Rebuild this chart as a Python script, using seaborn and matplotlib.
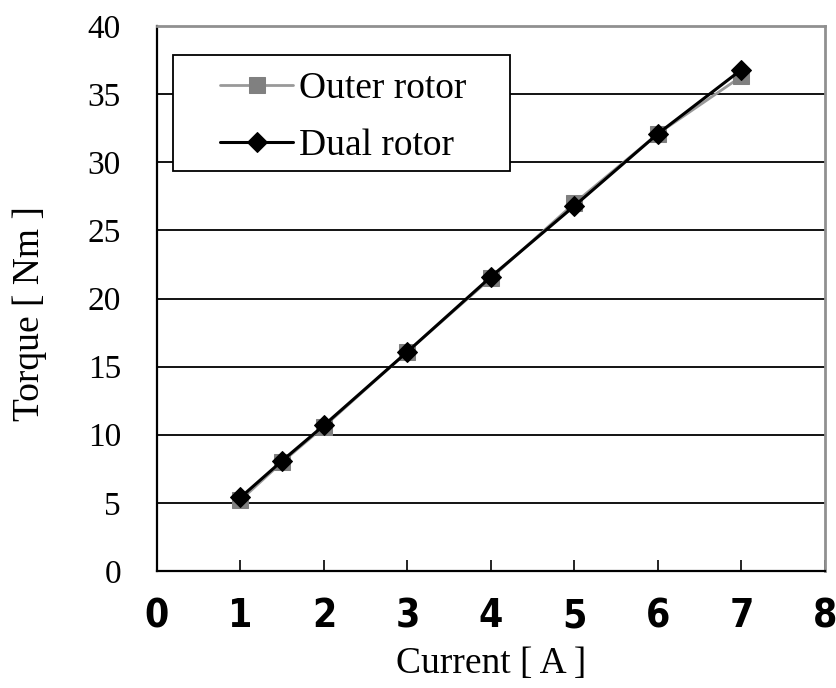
import matplotlib
matplotlib.use("Agg")
import matplotlib.pyplot as plt
from matplotlib.patches import Rectangle
import seaborn as sns
import pandas as pd

current = [1, 1.5, 2, 3, 4, 5, 6, 7]
outer_torque = [5.2, 8.0, 10.6, 16.1, 21.5, 27.0, 32.1, 36.3]
dual_torque = [5.4, 8.1, 10.7, 16.1, 21.6, 26.8, 32.1, 36.8]
series_names = ["Outer rotor", "Dual rotor"]
x_ticks = [0, 1, 2, 3, 4, 5, 6, 7, 8]
y_ticks = [0, 5, 10, 15, 20, 25, 30, 35, 40]

sns.set_style("white")
serif = ["Liberation Serif", "DejaVu Serif"]
plt.rcParams["font.family"] = serif
plt.rcParams["text.color"] = "black"
plt.rcParams["axes.labelcolor"] = "black"
plt.rcParams["xtick.color"] = "black"
plt.rcParams["ytick.color"] = "black"
plt.rcParams["xtick.labelcolor"] = "black"
plt.rcParams["ytick.labelcolor"] = "black"

df_outer = pd.DataFrame({"Current": current, "Torque": outer_torque, "Series": series_names[0]})
df_dual = pd.DataFrame({"Current": current, "Torque": dual_torque, "Series": series_names[1]})

fig = plt.figure(figsize=(8.37, 6.88), dpi=100)
ax = fig.add_axes([157 / 837, 1 - 571 / 688, 668 / 837, 545 / 688])

sns.lineplot(data=df_outer, x="Current", y="Torque", ax=ax, color="#999999",
             linewidth=2.0, marker="s", markersize=11, markerfacecolor="#808080",
             markeredgecolor="#808080", label=series_names[0], zorder=3)
sns.lineplot(data=df_dual, x="Current", y="Torque", ax=ax, color="black",
             linewidth=2.2, marker="D", markersize=10, markerfacecolor="black",
             markeredgecolor="black", label=series_names[1], zorder=4)

ax.set_xlim(0, 8)
ax.set_ylim(0, 40)
ax.set_xticks(x_ticks)
ax.set_yticks(y_ticks)
ax.set_xticklabels([str(t) for t in x_ticks],
                   fontdict={"family": ["DejaVu Sans"], "stretch": "condensed",
                             "weight": "bold", "size": 28, "color": "black"})
ax.set_yticklabels([str(t) for t in y_ticks],
                   fontdict={"family": serif, "size": 24, "color": "black"})
ax.tick_params(axis="x", direction="in", length=8, width=1.2, color="black", pad=19, bottom=True)
ax.tick_params(axis="y", length=0, pad=26, left=False)

for yv in y_ticks[1:-1]:
    ax.axhline(yv, color="black", linewidth=1.3, zorder=1)

for s in ["left", "bottom"]:
    ax.spines[s].set_color("black")
    ax.spines[s].set_linewidth(1.6)
for s in ["top", "right"]:
    ax.spines[s].set_color("#909090")
    ax.spines[s].set_linewidth(2.0)

ax.set_xlabel("Current [ A ]", fontsize=27, labelpad=8, color="black")
ax.set_ylabel("Torque [ Nm ]", fontsize=27, color="black")
ax.yaxis.set_label_coords(-0.165, 0.473)

# legend box
box = Rectangle((16 / 668, 400 / 545), 337 / 668, 116 / 545, transform=ax.transAxes,
                facecolor="white", edgecolor="black", linewidth=1.3, zorder=5)
ax.add_patch(box)

leg = ax.legend(loc="upper left", bbox_to_anchor=(63 / 668, 499 / 545), borderaxespad=0,
                fontsize=27, frameon=False, handlelength=1.95,
                handletextpad=0.15, labelspacing=0.58, borderpad=0.0, labelcolor="black")
leg.set_zorder(6)

fig.savefig("out.png", dpi=100)
